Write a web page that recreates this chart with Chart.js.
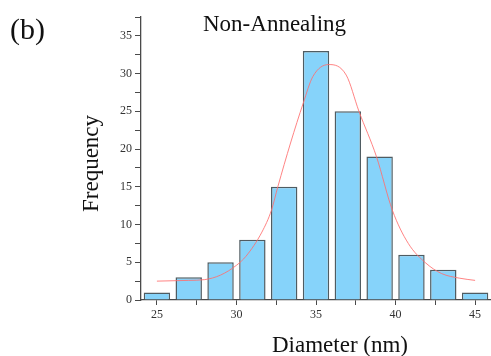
<!DOCTYPE html>
<html>
<head>
<meta charset="utf-8">
<script src="https://cdn.jsdelivr.net/npm/chart.js@4.4.0/dist/chart.umd.min.js"></script>
<style>
    html, body { margin: 0; padding: 0; background: #fff; }
    #wrap { width: 491px; height: 356px; }
</style>
</head>
<body>
<div id="wrap"><canvas id="histChart" width="491" height="356"></canvas></div>
<script>
// histogram bins (centre of each bin, nm) and counts
const binCenters = [25, 27, 29, 31, 33, 35, 37, 39, 41, 43, 45];
const counts = [1, 3, 5, 8, 15, 33, 25, 19, 6, 4, 1];

// red fitted curve
const fitX = [25, 27, 28, 29, 30, 30.6, 31.6, 32.2, 32.6, 33.4, 34.2, 34.8, 35.8, 36.9, 37.7, 38.8, 39.8, 40.8, 41.9, 42.9, 44, 45];
const fitY = [2.5, 2.6, 2.7, 3.3, 4.6, 5.8, 9.0, 11.9, 15.0, 20.8, 26.1, 29.6, 31.2, 29.8, 25.0, 19.0, 11.9, 7.5, 4.9, 3.5, 2.9, 2.6];

// x axis ticks (major every 5, minor in between)
const xTickValues = [25, 27.5, 30, 32.5, 35, 37.5, 40, 42.5, 45];

const panelLabel = "(b)";
const chartTitle = "Non-Annealing";
const xTitle = "Diameter (nm)";
const yTitle = "Frequency";

const serif = '"Liberation Serif", "Times New Roman", serif';
const axisColor = '#4a4a4a';

// texts placed like in the figure
const textPlugin = {
    id: 'figureTexts',
    afterDraw(chart) {
        const ctx = chart.ctx;
        ctx.save();
        ctx.fillStyle = '#111';
        ctx.textBaseline = 'alphabetic';
        ctx.textAlign = 'left';
        ctx.font = '30px ' + serif;
        ctx.fillText(panelLabel, 10, 39);
        ctx.font = '23px ' + serif;
        ctx.fillText(chartTitle, 203, 31);
        ctx.fillText(xTitle, 272, 352);
        ctx.translate(98, 212);
        ctx.rotate(-Math.PI / 2);
        ctx.fillText(yTitle, 0, 0);
        ctx.restore();
    }
};

const ctx = document.getElementById('histChart').getContext('2d');
new Chart(ctx, {
    type: 'bar',
    data: {
        datasets: [
            {
                type: 'line',
                data: fitX.map((x, i) => ({x: x, y: fitY[i]})),
                borderColor: 'rgba(255, 110, 110, 0.85)',
                borderWidth: 1,
                pointRadius: 0,
                fill: false,
                cubicInterpolationMode: 'monotone',
                order: 0
            },
            {
                type: 'bar',
                data: binCenters.map((x, i) => ({x: x, y: counts[i]})),
                backgroundColor: '#86d3fa',
                borderColor: '#4f5c62',
                borderWidth: 1.5,
                categoryPercentage: 1,
                barPercentage: 0.83,
                order: 1
            }
        ]
    },
    options: {
        responsive: false,
        animation: false,
        layout: {padding: {top: 17, right: 0, left: 0, bottom: 0}},
        plugins: {
            legend: {display: false},
            tooltip: {enabled: false}
        },
        scales: {
            x: {
                type: 'linear',
                min: 24,
                max: 46,
                offset: false,
                afterFit(scale) { scale.height = 56; },
                afterBuildTicks(scale) { scale.ticks = xTickValues.map(v => ({value: v})); },
                grid: {offset: false, drawOnChartArea: false, drawTicks: true, tickLength: 5, color: axisColor},
                border: {display: true, color: axisColor, width: 1.3},
                ticks: {
                    autoSkip: false,
                    maxRotation: 0,
                    padding: 3,
                    color: '#333',
                    font: {family: serif, size: 12},
                    callback: v => (v % 5 === 0 ? v : '')
                }
            },
            y: {
                min: 0,
                max: 37.5,
                afterFit(scale) { scale.width = 141; },
                grid: {drawOnChartArea: false, drawTicks: true, tickLength: 6, color: axisColor},
                border: {display: true, color: axisColor, width: 1.3},
                ticks: {
                    stepSize: 2.5,
                    autoSkip: false,
                    padding: 3,
                    color: '#333',
                    font: {family: serif, size: 12},
                    callback: v => (v % 5 === 0 ? v : '')
                }
            }
        }
    },
    plugins: [textPlugin]
});
</script>
</body>
</html>
